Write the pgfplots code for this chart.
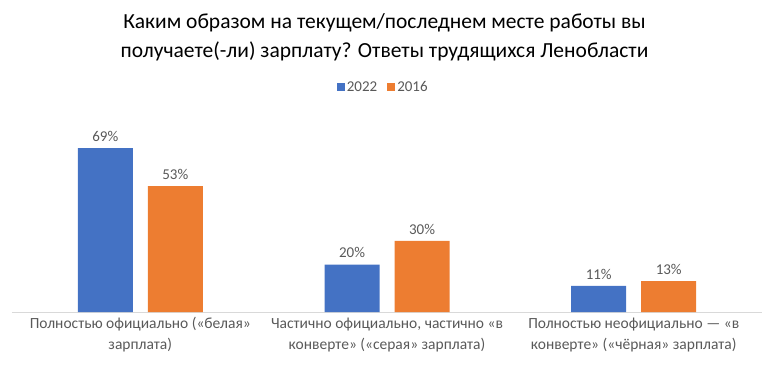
\documentclass[border=0pt]{standalone}
\usepackage{pgfplots}
\pgfplotsset{compat=1.18}
\usepackage{fontspec}
\setmainfont{Carlito}
\definecolor{cblue}{HTML}{4472C4}
\definecolor{corange}{HTML}{ED7D31}
\definecolor{ctext}{HTML}{595959}
\begin{document}
\begin{tikzpicture}
\path[use as bounding box] (-12pt,-57pt) rectangle (761pt,312pt);
\begin{axis}[
  at={(0pt,0pt)}, anchor=south west,
  scale only axis, width=750pt, height=190pt,
  ymin=0, ymax=80, xmin=-0.52, xmax=2.52,
  axis x line=bottom, axis y line=none,
  axis line style={draw=black!15, line width=0.8pt, -},
  xtick={0,1,2}, major tick length=0pt,
  xticklabels={{Полностью официально («белая»\\зарплата)},
               {Частично официально, частично «в\\конверте» («серая» зарплата)},
               {Полностью неофициально — «в\\конверте» («чёрная» зарплата)}},
  xticklabel style={align=center, font=\fontsize{15.5}{21}\selectfont, text=ctext, yshift=-2pt},
  ybar, bar width=55pt,
  /pgf/number format/assume math mode=true,
  nodes near coords={\pgfmathprintnumber{\pgfplotspointmeta}\%},
  nodes near coords style={font=\fontsize{15}{16}\selectfont, text=ctext, yshift=3pt},
  legend style={at={(0.495,1.184)}, anchor=center, draw=none, legend columns=2,
    font=\fontsize{15}{16}\selectfont, text=ctext,
    /tikz/every even column/.append style={column sep=8pt}},
  legend image code/.code={\fill[#1] (0pt,-4pt) rectangle (8pt,4pt);},
  clip=false,
]
\addplot[draw=none, fill=cblue, bar shift=-35pt] coordinates {(0,69) (1,20) (2,11)};
\addplot[draw=none, fill=corange, bar shift=35pt] coordinates {(0,53) (1,30) (2,13)};
\legend{2022,2016}
\node[font=\fontsize{21.5}{29}\selectfont, align=center, text=black] at (axis cs:0.99,115.5)
  {Каким образом на текущем/последнем месте работы вы\\получаете(-ли) зарплату? Ответы трудящихся Ленобласти};
\end{axis}
\end{tikzpicture}
\end{document}
